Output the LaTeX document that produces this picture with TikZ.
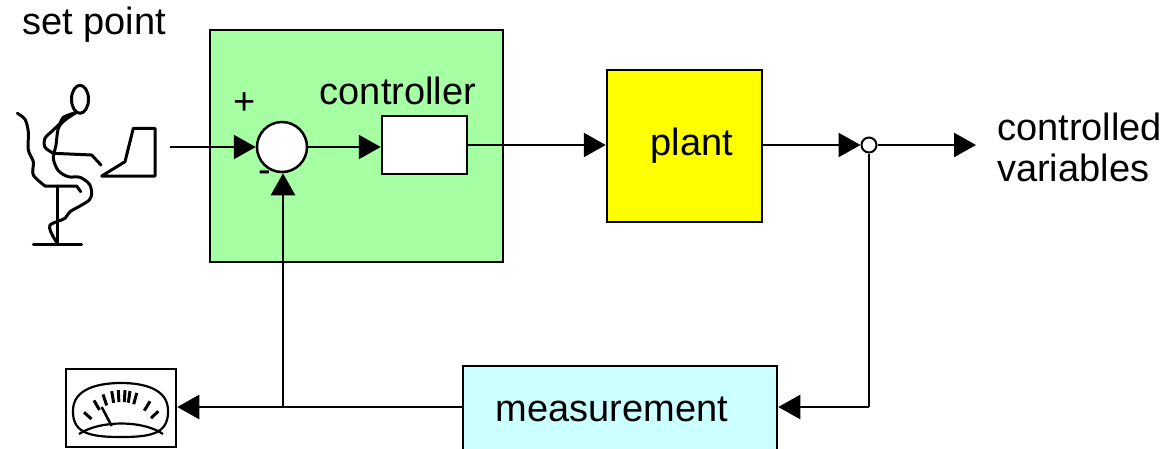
\documentclass[tikz,border=0pt]{standalone}
\usepackage{fontspec}
\setmainfont{Liberation Sans}
\usetikzlibrary{arrows.meta}
\definecolor{ctrlgreen}{RGB}{166,255,162}
\definecolor{plantyellow}{RGB}{255,255,0}
\definecolor{meascyan}{RGB}{204,255,255}
\begin{document}
\begin{tikzpicture}[x=1pt,y=-1pt,
  lbl/.style={font=\fontsize{38}{44}\selectfont, inner sep=0pt},
  block/.style={draw, line width=2.5pt, inner sep=0pt},
  sig/.style={line width=2.5pt, -{Triangle[length=22pt,width=24pt]}},
  wire/.style={line width=2.5pt},
  sketch/.style={line width=3pt, line join=round, line cap=round}]
\useasboundingbox (0,0) rectangle (1168,448);

% blocks
\node[block, fill=ctrlgreen, minimum width=293pt, minimum height=232pt] (ctrlarea) at (356.5,146) {};
\node[block, fill=plantyellow, minimum width=155pt, minimum height=152pt] (plant) at (684.5,146) {};
\node[block, fill=meascyan, minimum width=314pt, minimum height=100pt] (meas) at (620,416) {};
\node[block, fill=white, minimum width=85pt, minimum height=58pt] (ctrl) at (424.5,145) {};
\node[block, fill=white, circle, minimum size=50pt] (sum) at (282,147) {};
\node[draw, line width=2pt, fill=white, circle, minimum size=15pt, inner sep=0pt] (junc) at (869,145) {};
\node[block, fill=white, minimum width=110pt, minimum height=78pt] (meter) at (121,408) {};

% labels
\node[lbl, anchor=base] (tsp) at (94,34) {set point};
\node[lbl, anchor=base] (tctrl) at (398,104) {controller};
\node[lbl, anchor=base] (tplant) at (692,155) {plant};
\node[lbl, anchor=base west] (tcv1) at (997,140) {controlled};
\node[lbl, anchor=base west] (tcv2) at (997,181) {variables};
\node[lbl, anchor=base] (tmeas) at (612,421) {measurement};
\node[lbl] (tplus) at (245,104) {+};
\node[lbl] (tminus) at (265,177) {-};

% operator at the terminal
\coordinate (spin) at (170,147);
\begin{scope}[sketch]
  \draw (80,99.3) ellipse [x radius=8.5, y radius=14];
  % chair
  \draw plot[smooth] coordinates {(17.3,113.3) (25,119.3) (28.3,131.7) (28.3,150) (33.3,161.7) (33.3,175) (45,186)};
  \draw (45,186) -- (76.7,186) -- (80.7,191.7);
  \draw (57.3,186) -- (57.3,242.7);
  \draw (33.3,244.3) -- (81.7,244.3);
  % body
  \draw plot[smooth] coordinates {(75,112.7) (63.3,117.3) (60,123.3) (53.3,130) (45,138.3) (45,147.3) (53.3,153.3)};
  \draw (53.3,153.3) -- (91.7,155) -- (101,165);
  \draw plot[smooth] coordinates {(76,112.7) (65,120) (58.3,128.3) (56,145) (53.3,158.3) (58.3,170.7) (68.3,176.7) (80,177.3) (89.3,184) (91.7,193.3) (89.3,200) (80,206) (70,211.7) (65,218.3) (59.3,220.7)};
  \draw plot[smooth] coordinates {(59.3,220.7) (50,225) (50.7,231.7) (56.7,242.7)};
  % laptop
  \draw (101.7,176) -- (125,161.7) -- (133.3,128.3) -- (155,128.3) -- (155,176) -- cycle;
\end{scope}

% meter dial
\begin{scope}[line width=2.2pt]
  \draw (73,412) .. controls (72,388) and (100,383) .. (121,383)
        .. controls (142,383) and (169,388) .. (168,412)
        .. controls (168,434) and (150,437) .. (121,437)
        .. controls (92,437) and (73,434) .. (73,412);
  \draw (79,434) .. controls (100,420) and (143,420) .. (163,434);
  \foreach \a in {146.4,127.7,114.3,102.6,94.1,85.5,79.1,70.2,50.7,35.1}
    \draw[line width=3pt] (121.5,440) ++({45*cos(\a)},{-50*sin(\a)}) -- ++({-9*cos(\a)},{12*sin(\a)});
  \draw[line width=2.5pt] (101.7,407) -- (111.7,426);
\end{scope}

% signal flow
\draw[sig] (spin) -- (sum.west);
\draw[sig] (sum.east) -- (ctrl.west |- sum.east);
\draw[sig] (ctrl.east) -- (plant.west |- ctrl.east);
\draw[sig] (plant.east |- junc) -- (junc.west);
\coordinate (out) at (976,145);
\draw[sig] (junc.east) -- (out);
\coordinate (fbturn) at (869,407);
\draw[wire] (junc.south) -- (fbturn);
\draw[sig] (fbturn) -- (meas.east |- fbturn);
\draw[sig] (meas.west |- fbturn) -- (meter.east |- fbturn);
\coordinate (fbup) at (283,407);
\draw[sig] (fbup) -- (sum.south -| fbup);
\end{tikzpicture}
\end{document}
